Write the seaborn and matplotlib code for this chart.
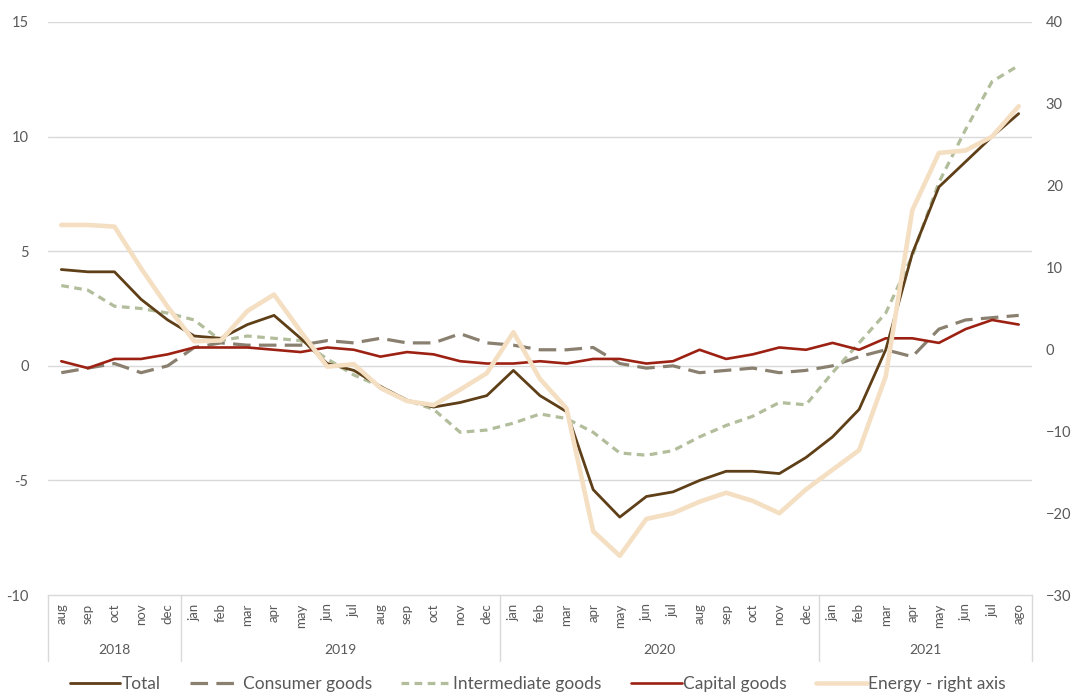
import numpy as np
import pandas as pd
import matplotlib
matplotlib.use('Agg')
import matplotlib.pyplot as plt
import matplotlib.transforms as mtransforms
from matplotlib.lines import Line2D
import seaborn as sns

months = ['aug', 'sep', 'oct', 'nov', 'dec',
          'jan', 'feb', 'mar', 'apr', 'may', 'jun', 'jul', 'aug', 'sep', 'oct', 'nov', 'dec',
          'jan', 'feb', 'mar', 'apr', 'may', 'jun', 'jul', 'aug', 'sep', 'oct', 'nov', 'dec',
          'jan', 'feb', 'mar', 'apr', 'may', 'jun', 'jul', 'ago']
years = ['2018', '2019', '2020', '2021']
year_len = [5, 12, 12, 8]

total = [4.2, 4.1, 4.1, 2.9, 2.0, 1.3, 1.2, 1.8, 2.2, 1.2, 0.1, -0.2,
         -0.9, -1.5, -1.8, -1.6, -1.3, -0.2, -1.3, -2.0, -5.4, -6.6, -5.7, -5.5,
         -5.0, -4.6, -4.6, -4.7, -4.0, -3.1, -1.9, 0.7, 4.9, 7.8, 8.9, 10.0, 11.0]
consumer = [-0.3, -0.1, 0.1, -0.3, 0.0, 0.8, 1.0, 0.9, 0.9, 0.9, 1.1, 1.0,
            1.2, 1.0, 1.0, 1.4, 1.0, 0.9, 0.7, 0.7, 0.8, 0.1, -0.1, 0.0,
            -0.3, -0.2, -0.1, -0.3, -0.2, 0.0, 0.4, 0.7, 0.4, 1.6, 2.0, 2.1, 2.2]
intermediate = [3.5, 3.3, 2.6, 2.5, 2.3, 2.0, 1.1, 1.3, 1.2, 1.1, 0.3, -0.4,
                -0.9, -1.5, -1.9, -2.9, -2.8, -2.5, -2.1, -2.3, -2.9, -3.8, -3.9, -3.7,
                -3.1, -2.6, -2.2, -1.6, -1.7, -0.3, 1.0, 2.3, 4.8, 8.0, 10.3, 12.4, 13.1]
capital = [0.2, -0.1, 0.3, 0.3, 0.5, 0.8, 0.8, 0.8, 0.7, 0.6, 0.8, 0.7,
           0.4, 0.6, 0.5, 0.2, 0.1, 0.1, 0.2, 0.1, 0.3, 0.3, 0.1, 0.2,
           0.7, 0.3, 0.5, 0.8, 0.7, 1.0, 0.7, 1.2, 1.2, 1.0, 1.6, 2.0, 1.8]
energy = [15.2, 15.2, 15.0, 9.9, 5.2, 1.0, 1.1, 4.7, 6.7, 2.2, -2.1, -1.8,
          -4.7, -6.3, -6.8, -4.9, -2.9, 2.1, -3.6, -7.2, -22.2, -25.2, -20.7, -20.0,
          -18.6, -17.5, -18.5, -20.0, -17.1, -14.7, -12.3, -3.3, 17.0, 24.0, 24.3, 26.0, 29.7]

df = pd.DataFrame({'x': np.arange(len(months)), 'total': total, 'consumer': consumer,
                   'intermediate': intermediate, 'capital': capital, 'energy': energy})

sns.set_style('white')
plt.rcParams['font.family'] = ['Lato', 'DejaVu Sans']
txt = '#595959'
grid_c = '#d9d9d9'

c_total = '#5e3f17'
c_cons = '#8a8070'
c_inter = '#b2bd9b'
c_cap = '#9c2112'
c_en = '#f5dfc3'

fig = plt.figure(figsize=(10.76, 6.96), dpi=100)
ax = fig.add_axes([0.0446, 0.145, 0.9145, 0.8235])

sns.lineplot(data=df, x='x', y='consumer', ax=ax, color=c_cons, linewidth=2.3,
             linestyle=(0, (5.5, 2.6)), zorder=3)
sns.lineplot(data=df, x='x', y='intermediate', ax=ax, color=c_inter, linewidth=2.3,
             linestyle=(0, (2.4, 1.7)), zorder=3)
sns.lineplot(data=df, x='x', y='capital', ax=ax, color=c_cap, linewidth=1.9, zorder=4)
sns.lineplot(data=df, x='x', y='total', ax=ax, color=c_total, linewidth=2.0, zorder=5)

ax.set_ylim(-10, 15)
ax.set_xlim(-0.5, len(months) - 0.5)
ax.set_yticks([-10, -5, 0, 5, 10, 15])
ax.set_yticklabels(['-10', '-5', '0', '5', '10', '15'])
for y in [-5, 0, 5, 10, 15]:
    ax.axhline(y, color=grid_c, linewidth=1, zorder=1)
for s in ax.spines.values():
    s.set_visible(False)
ax.spines['bottom'].set_visible(True)
ax.spines['bottom'].set_color(grid_c)
ax.spines['bottom'].set_linewidth(1)
ax.set_xticks(range(len(months)))
ax.set_xticklabels(months, rotation=90, fontsize=9.5, color=txt)
ax.tick_params(axis='x', length=0, pad=6)
ax.tick_params(axis='y', length=0, pad=14, labelsize=10.5, labelcolor=txt)
ax.set_xlabel('')
ax.set_ylabel('')

ax2 = ax.twinx()
sns.lineplot(data=df, x='x', y='energy', ax=ax2, color=c_en, linewidth=3.3, zorder=6)
ax2.set_ylim(-30, 40)
ax2.set_yticks(range(-30, 41, 10))
ax2.tick_params(axis='y', length=0, pad=10, labelsize=10.5, labelcolor=txt)
for s in ax2.spines.values():
    s.set_visible(False)
ax2.set_ylabel('')
ax2.grid(False)

# year group labels and separators under the month labels
trans = mtransforms.blended_transform_factory(ax.transData, ax.transAxes)
edges = [-0.5]
for n in year_len:
    edges.append(edges[-1] + n)
for e in edges:
    ax.plot([e, e], [0, -0.115], transform=trans, color=grid_c, linewidth=1, clip_on=False)
for i, yr in enumerate(years):
    ax.text((edges[i] + edges[i + 1]) / 2, -0.095, yr, transform=trans, ha='center',
            va='center', fontsize=10, color=txt)

handles = [
    Line2D([], [], color=c_total, linewidth=2.0),
    Line2D([], [], color=c_cons, linewidth=2.3, linestyle=(0, (5.5, 2.6))),
    Line2D([], [], color=c_inter, linewidth=2.3, linestyle=(0, (2.4, 1.7))),
    Line2D([], [], color=c_cap, linewidth=1.9),
    Line2D([], [], color=c_en, linewidth=3.3),
]
labels = ['Total', 'Consumer goods', 'Intermediate goods', 'Capital goods', 'Energy - right axis']
leg = fig.legend(handles, labels, loc='center', bbox_to_anchor=(0.5, 0.017), ncol=5,
                 frameon=False, fontsize=12.5, handlelength=2.9, handletextpad=0.1,
                 columnspacing=1.7)
for t in leg.get_texts():
    t.set_color(txt)

fig.savefig('out.png', dpi=100)
